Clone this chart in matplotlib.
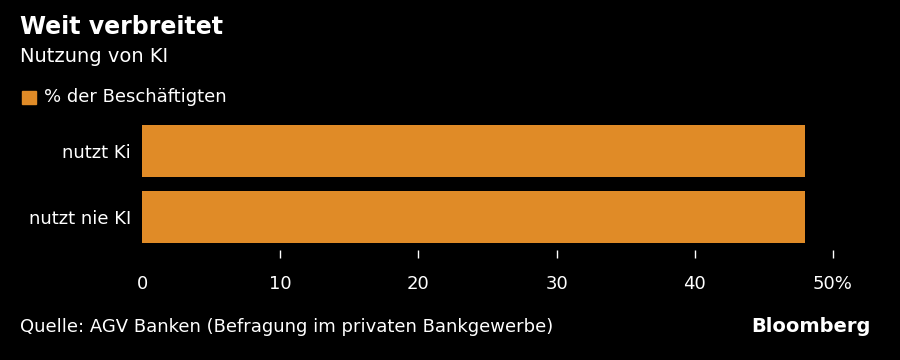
import matplotlib.pyplot as plt

categories = ['nutzt Ki', 'nutzt nie KI']
values = [48, 48]
ticks = [0, 10, 20, 30, 40, 50]
tick_labels = ['0', '10', '20', '30', '40', '50%']

orange = '#E08B27'
plt.rcParams['font.family'] = ['DejaVu Sans']

fig = plt.figure(figsize=(9, 3.6), dpi=100, facecolor='black')
ax = fig.add_axes([142/900, 1 - 250/360, (833 - 142)/900, 132/360])
ax.set_facecolor('black')

ypos = list(range(len(categories)))
ax.barh(ypos, values, height=0.8, color=orange)
ax.set_ylim(len(categories) - 0.5, -0.5)
ax.set_xlim(0, 50)
ax.set_yticks(ypos)
ax.set_yticklabels(categories, color='white', fontsize=13)
ax.tick_params(axis='y', length=0, pad=8)
ax.set_xticks(ticks)
ax.set_xticklabels(tick_labels, color='white', fontsize=13)
ax.tick_params(axis='x', direction='out', length=6, width=1, color='white', pad=12)
# no tick mark at 0
ax.xaxis.get_major_ticks()[0].tick1line.set_visible(False)
for s in ax.spines.values():
    s.set_visible(False)

fig.text(20/900, 1 - 27/360, 'Weit verbreitet', color='white', fontsize=17,
         fontweight='bold', va='center')
fig.text(20/900, 1 - 57/360, 'Nutzung von KI', color='white', fontsize=14,
         va='center')
fig.patches.append(plt.Rectangle((22/900, 1 - 104/360), 14/900, 13/360,
                                 transform=fig.transFigure, color=orange))
fig.text(44/900, 1 - 97/360, '% der Beschäftigten', color='white', fontsize=13,
         va='center')
fig.text(20/900, 1 - 327/360, 'Quelle: AGV Banken (Befragung im privaten Bankgewerbe)',
         color='white', fontsize=13, va='center')
fig.text(871/900, 1 - 327/360, 'Bloomberg', color='white', fontsize=14,
         fontweight='bold', ha='right', va='center')

fig.savefig('out.png', facecolor='black')
